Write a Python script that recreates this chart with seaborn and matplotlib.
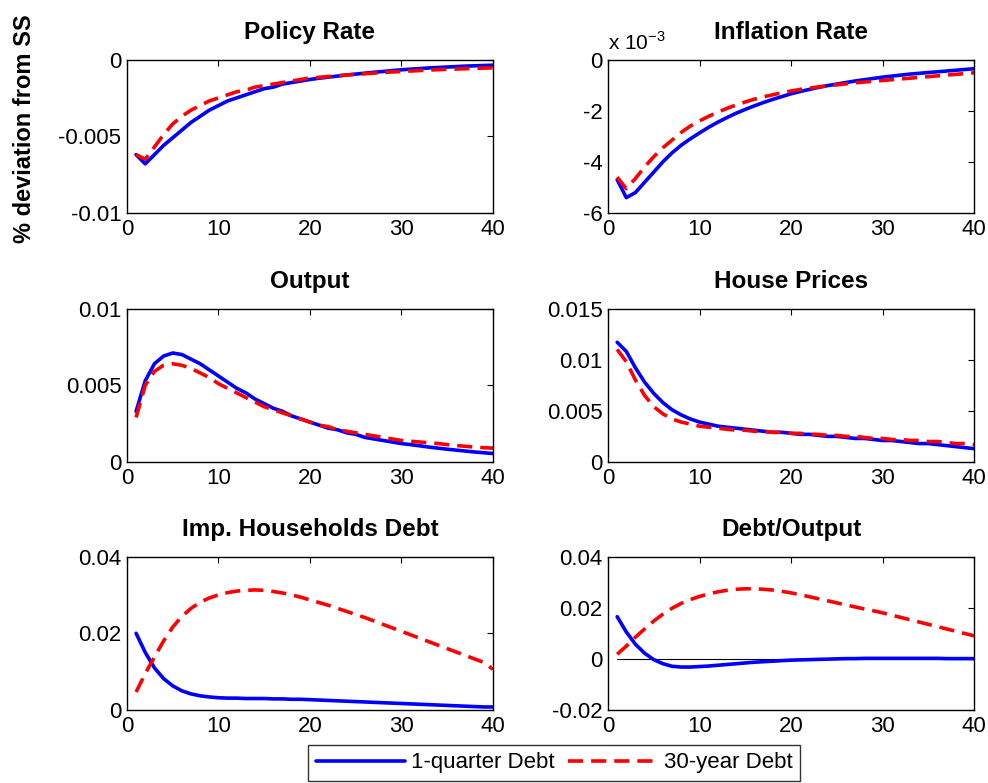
import numpy as np
import pandas as pd
import matplotlib
matplotlib.use('Agg')
import matplotlib.pyplot as plt
import seaborn as sns
from matplotlib.lines import Line2D

# impulse responses, periods 1..40
periods = list(range(1, 41))

policy_1q = [-0.0062, -0.0068, -0.0062, -0.0056, -0.0051, -0.0046, -0.0041, -0.0037, -0.0033, -0.0030,
             -0.0027, -0.0025, -0.0023, -0.0021, -0.0019, -0.0018, -0.0016, -0.0015, -0.0014, -0.0013,
             -0.00122, -0.00115, -0.00108, -0.00101, -0.00095, -0.00089, -0.00083, -0.00078, -0.00072, -0.00067,
             -0.00063, -0.00059, -0.00055, -0.00052, -0.00049, -0.00046, -0.00043, -0.00041, -0.00039, -0.00037]
policy_30y = [-0.0062, -0.0065, -0.0057, -0.0049, -0.0042, -0.0037, -0.0033, -0.0030, -0.0027, -0.0025,
              -0.0023, -0.0021, -0.0020, -0.0018, -0.0017, -0.0016, -0.0015, -0.0014, -0.0013, -0.0012,
              -0.00116, -0.00111, -0.00106, -0.00101, -0.00097, -0.00093, -0.00089, -0.00085, -0.00081, -0.00078,
              -0.00075, -0.00072, -0.00069, -0.00066, -0.00064, -0.00062, -0.00060, -0.00058, -0.00056, -0.00054]

infl_1q = [-4.7, -5.4, -5.2, -4.8, -4.4, -4.0, -3.65, -3.35, -3.1, -2.87,
           -2.65, -2.45, -2.27, -2.1, -1.95, -1.81, -1.68, -1.56, -1.45, -1.34,
           -1.25, -1.17, -1.09, -1.02, -0.96, -0.90, -0.84, -0.79, -0.74, -0.69,
           -0.65, -0.61, -0.57, -0.54, -0.51, -0.48, -0.45, -0.42, -0.39, -0.36]
infl_30y = [-4.6, -5.05, -4.65, -4.2, -3.8, -3.45, -3.15, -2.85, -2.6, -2.4,
            -2.22, -2.06, -1.91, -1.78, -1.66, -1.55, -1.46, -1.38, -1.3, -1.23,
            -1.17, -1.12, -1.07, -1.03, -0.99, -0.95, -0.91, -0.88, -0.85, -0.82,
            -0.79, -0.76, -0.73, -0.70, -0.67, -0.64, -0.61, -0.58, -0.55, -0.52]

output_1q = [0.0033, 0.0053, 0.0064, 0.0069, 0.0071, 0.0070, 0.0067, 0.0064, 0.0060, 0.0056,
             0.0052, 0.0048, 0.0045, 0.0041, 0.0038, 0.0035, 0.0033, 0.0030, 0.0028, 0.0026,
             0.0024, 0.0022, 0.0021, 0.0019, 0.0018, 0.0016, 0.0015, 0.0014, 0.0013, 0.0012,
             0.00113, 0.00105, 0.00097, 0.0009, 0.00083, 0.00077, 0.00071, 0.00065, 0.0006, 0.00055]
output_30y = [0.0029, 0.0050, 0.0059, 0.0063, 0.0064, 0.0063, 0.0061, 0.0058, 0.0055, 0.0051,
              0.0048, 0.0045, 0.0042, 0.0039, 0.0036, 0.0034, 0.0032, 0.0030, 0.0028, 0.0026,
              0.0024, 0.0023, 0.0021, 0.0020, 0.0019, 0.0018, 0.0017, 0.0016, 0.0015, 0.0014,
              0.00135, 0.0013, 0.00125, 0.0012, 0.00113, 0.00107, 0.00102, 0.00097, 0.00093, 0.0009]

house_1q = [0.0117, 0.0108, 0.0092, 0.0078, 0.0067, 0.0058, 0.0051, 0.0046, 0.0042, 0.0039,
            0.0037, 0.0035, 0.0034, 0.0033, 0.0032, 0.0031, 0.0030, 0.0029, 0.0029, 0.0028,
            0.0027, 0.0027, 0.0026, 0.0025, 0.0025, 0.0024, 0.0023, 0.0023, 0.0022, 0.0021,
            0.0021, 0.0020, 0.0019, 0.0018, 0.0018, 0.0017, 0.0016, 0.0015, 0.0014, 0.0013]
house_30y = [0.0110, 0.0098, 0.0080, 0.0065, 0.0054, 0.0047, 0.0042, 0.0039, 0.0037, 0.0035,
             0.0034, 0.0033, 0.0032, 0.0031, 0.0031, 0.0030, 0.0030, 0.0029, 0.0029, 0.0028,
             0.0028, 0.0027, 0.0027, 0.0026, 0.0026, 0.0025, 0.0025, 0.0024, 0.0023, 0.0023,
             0.0022, 0.0022, 0.0021, 0.0021, 0.0020, 0.0020, 0.0019, 0.0018, 0.0018, 0.0017]

imp_debt_1q = [0.0200, 0.0150, 0.0110, 0.0082, 0.0063, 0.0050, 0.0042, 0.0037, 0.0034, 0.0032,
               0.0031, 0.0031, 0.0030, 0.0030, 0.0030, 0.0029, 0.0029, 0.0028, 0.0028, 0.0027,
               0.0026, 0.0025, 0.0024, 0.0023, 0.0022, 0.0021, 0.0020, 0.0019, 0.0018, 0.0017,
               0.0016, 0.0015, 0.0014, 0.0013, 0.0012, 0.0011, 0.0010, 0.0009, 0.0008, 0.0008]
imp_debt_30y = [0.0047, 0.0095, 0.0138, 0.0180, 0.0216, 0.0244, 0.0265, 0.0281, 0.0292, 0.0300,
                0.0306, 0.0310, 0.0312, 0.0313, 0.0312, 0.0309, 0.0305, 0.0300, 0.0294, 0.0287,
                0.0280, 0.0273, 0.0265, 0.0257, 0.0249, 0.0241, 0.0232, 0.0223, 0.0214, 0.0205,
                0.0196, 0.0187, 0.0178, 0.0169, 0.0160, 0.0151, 0.0142, 0.0133, 0.0124, 0.0106]

debt_y_1q = [0.0165, 0.0105, 0.0057, 0.0022, -0.0003, -0.0019, -0.0029, -0.0032, -0.0032, -0.0030,
             -0.0028, -0.0025, -0.0022, -0.0019, -0.0016, -0.0013, -0.0011, -0.0009, -0.0007, -0.0005,
             -0.0004, -0.0003, -0.0002, -0.0001, 0.0, 0.0001, 0.0001, 0.0002, 0.0002, 0.0002,
             0.0002, 0.0002, 0.0002, 0.0002, 0.0002, 0.0002, 0.0001, 0.0001, 0.0001, 0.0001]
debt_y_30y = [0.0018, 0.0050, 0.0085, 0.0117, 0.0148, 0.0175, 0.0198, 0.0217, 0.0232, 0.0244,
              0.0254, 0.0262, 0.0268, 0.0272, 0.0274, 0.0274, 0.0272, 0.0269, 0.0264, 0.0258,
              0.0251, 0.0243, 0.0235, 0.0227, 0.0219, 0.0211, 0.0203, 0.0195, 0.0188, 0.0180,
              0.0171, 0.0162, 0.0153, 0.0144, 0.0135, 0.0126, 0.0117, 0.0108, 0.0099, 0.0090]

titles = ['Policy Rate', 'Inflation Rate', 'Output', 'House Prices',
          'Imp. Households Debt', 'Debt/Output']
series_1q = [policy_1q, infl_1q, output_1q, house_1q, imp_debt_1q, debt_y_1q]
series_30y = [policy_30y, infl_30y, output_30y, house_30y, imp_debt_30y, debt_y_30y]
yticks = [[-0.01, -0.005, 0], [-6, -4, -2, 0], [0, 0.005, 0.01], [0, 0.005, 0.01, 0.015],
          [0, 0.02, 0.04], [-0.02, 0, 0.02, 0.04]]
ytick_labels = [['-0.01', '-0.005', '0'], ['-6', '-4', '-2', '0'], ['0', '0.005', '0.01'],
                ['0', '0.005', '0.01', '0.015'], ['0', '0.02', '0.04'], ['-0.02', '0', '0.02', '0.04']]
xticks = [0, 10, 20, 30, 40]
legend_labels = ['1-quarter Debt', '30-year Debt']

sns.set_style('white')
plt.rcParams['font.family'] = ['Liberation Sans', 'DejaVu Sans']
plt.rcParams['text.color'] = 'black'
plt.rcParams['xtick.color'] = 'black'
plt.rcParams['ytick.color'] = 'black'
plt.rcParams['xtick.direction'] = 'in'
plt.rcParams['ytick.direction'] = 'in'

DASH = (0, (4.2, 2.2))
fig = plt.figure(figsize=(9.88, 7.83), dpi=100)

lefts = [0.1285, 0.6154]
bottoms = [0.728, 0.41, 0.0932]
w, h = 0.3705, 0.196

for i in range(6):
    ax = fig.add_axes([lefts[i % 2], bottoms[i // 2], w, h])
    df = pd.DataFrame({'t': periods, 'a': series_1q[i], 'b': series_30y[i]})
    if i == 5:
        ax.plot([1, 40], [0, 0], color='black', lw=0.8)
    sns.lineplot(data=df, x='t', y='a', color='#0000ff', lw=2.6, ax=ax)
    sns.lineplot(data=df, x='t', y='b', color='#ff0000', lw=2.6, ax=ax,
                 dashes=False, linestyle=DASH)
    ax.set_xlim(0, 40)
    ax.set_ylim(yticks[i][0], yticks[i][-1])
    ax.set_xticks(xticks)
    ax.set_yticks(yticks[i])
    ax.set_yticklabels(ytick_labels[i])
    ax.set_xlabel('')
    ax.set_ylabel('')
    ax.tick_params(labelsize=16, length=4, width=0.8, top=True, right=True, pad=4,
                   labelcolor='black')
    for s in ax.spines.values():
        s.set_linewidth(1.0)
        s.set_color('black')
    ax.set_title(titles[i], fontsize=17.5, fontweight='bold', pad=15, color='black')
    if i == 1:
        ax.text(0.0, 1.035, r'x 10$^{\mathregular{-3}}$', transform=ax.transAxes,
                fontsize=15, ha='left', va='bottom')
    if i == 0:
        ax.text(-0.279, 0.55, '% deviation from SS', transform=ax.transAxes, rotation=90,
                fontsize=17, fontweight='bold', ha='center', va='center')

handles = [Line2D([], [], color='#0000ff', lw=2.6),
           Line2D([], [], color='#ff0000', lw=2.6, linestyle=DASH)]
leg = fig.legend(handles, legend_labels, loc='upper center', bbox_to_anchor=(0.561, 0.049),
                 ncol=2, fontsize=16, frameon=True, fancybox=False, handlelength=4.0,
                 columnspacing=0.6, handletextpad=0.3, borderpad=0.35, borderaxespad=0)
leg.get_frame().set_edgecolor('black')
leg.get_frame().set_linewidth(1.0)

fig.savefig('out.png', dpi=100)
